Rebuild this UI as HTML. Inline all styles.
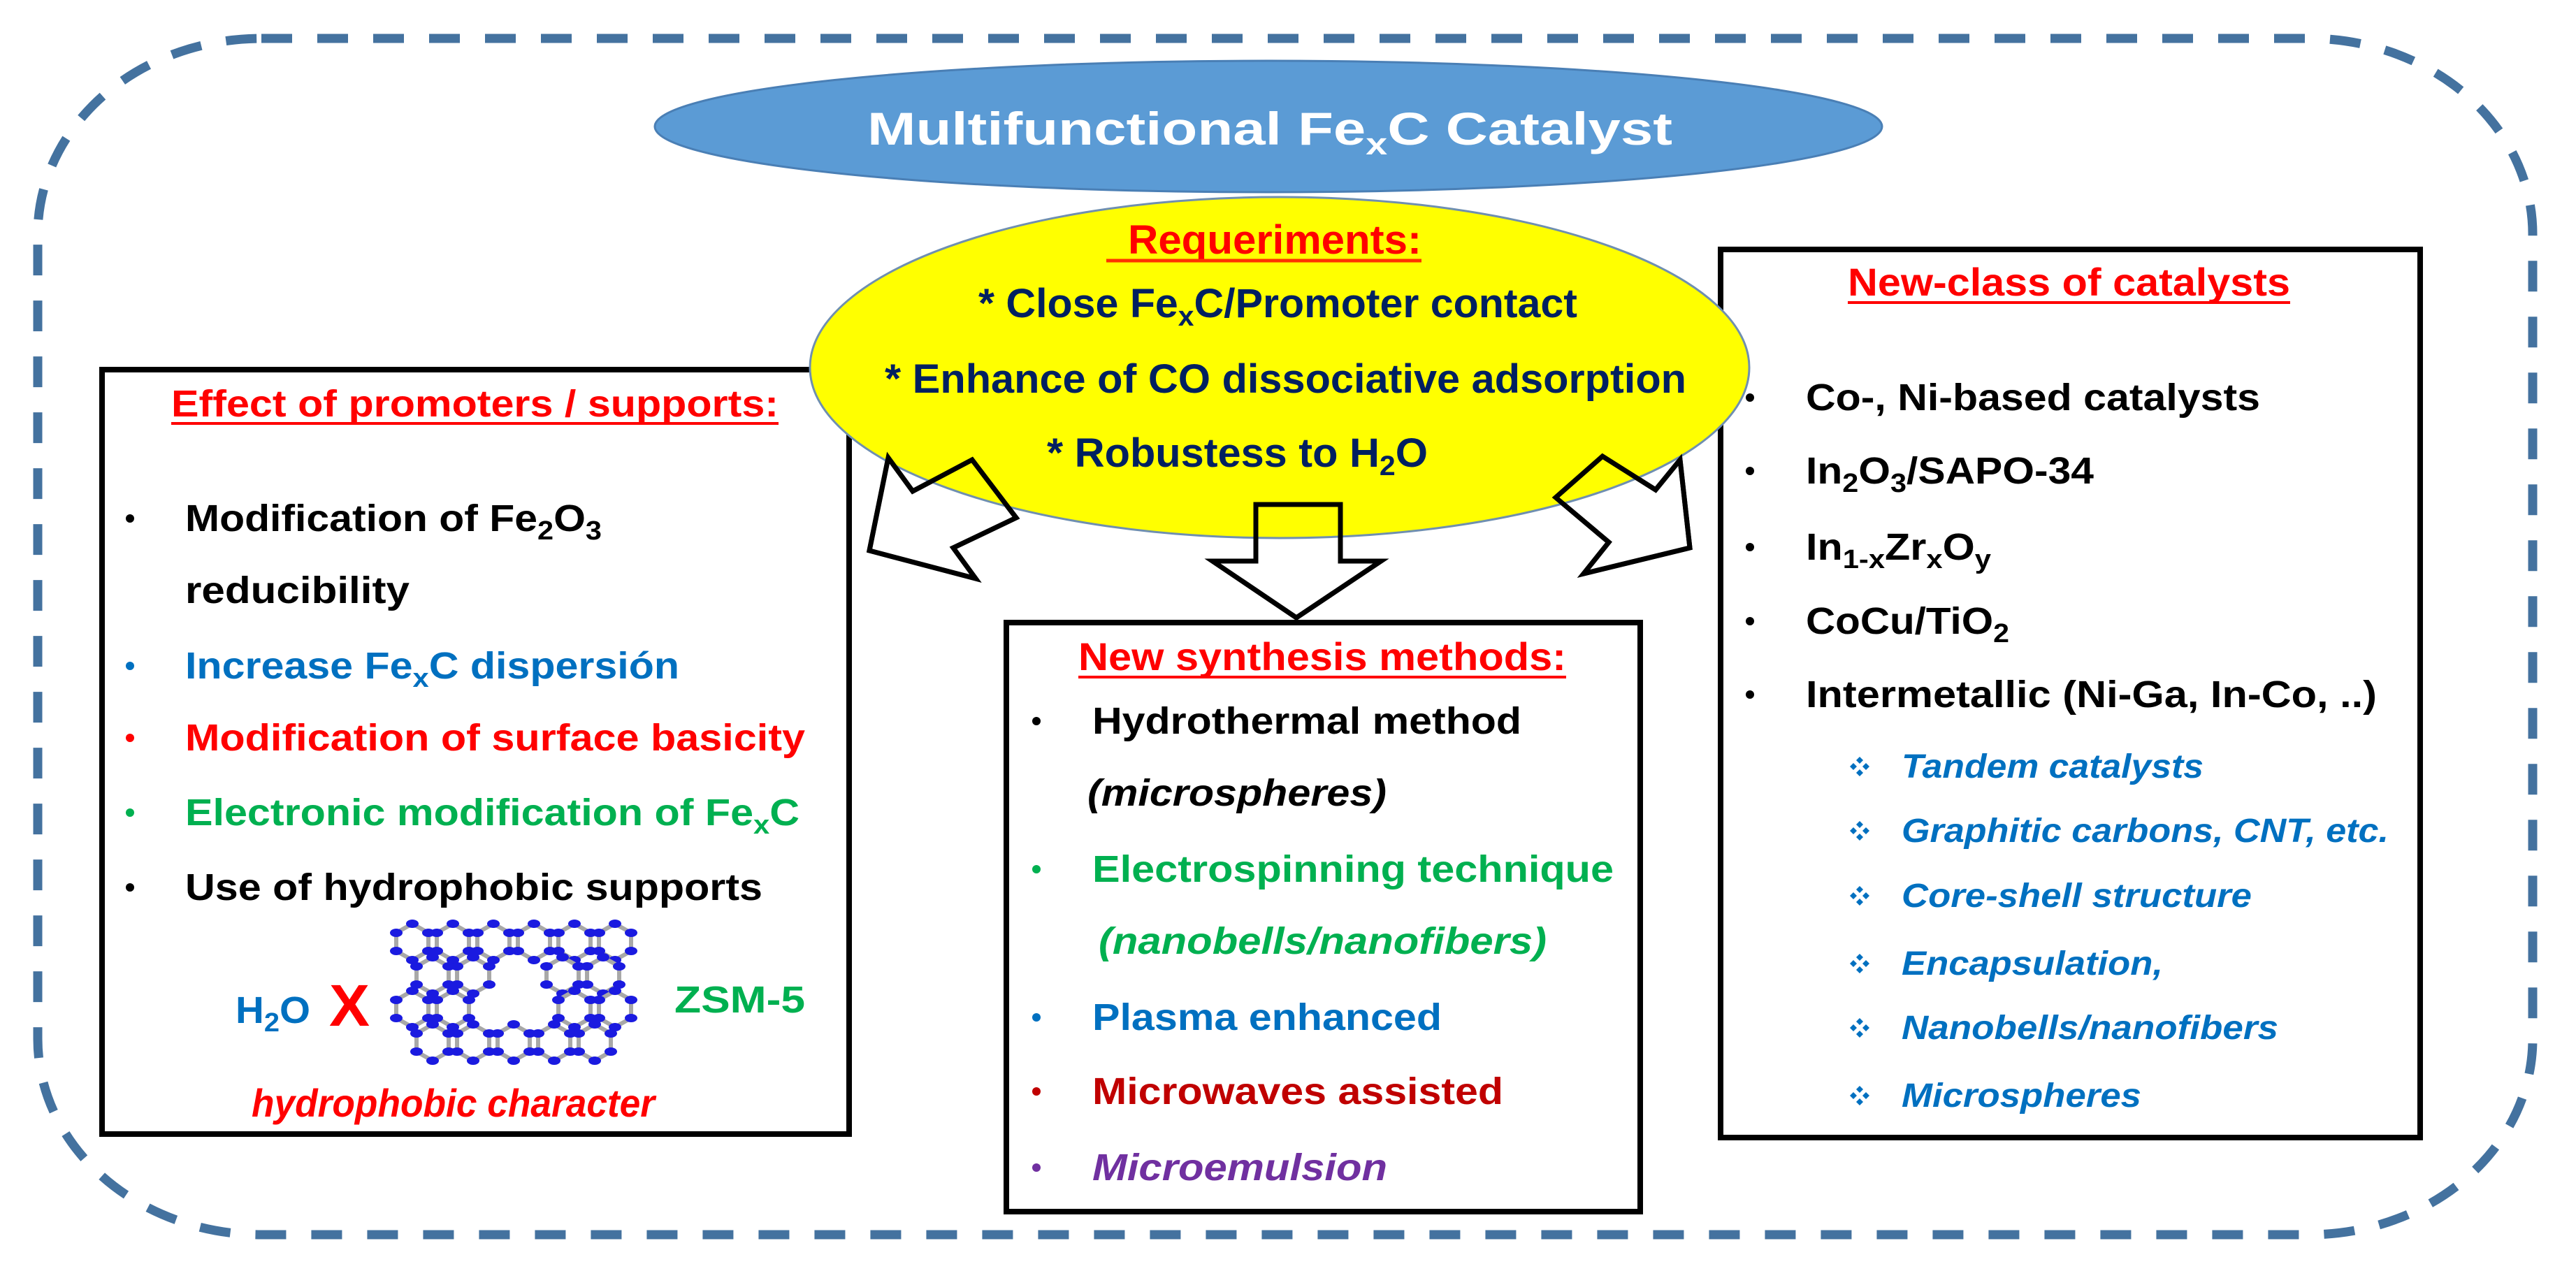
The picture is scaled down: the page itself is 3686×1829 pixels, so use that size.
<!DOCTYPE html>
<html><head><meta charset="utf-8"><style>
html,body{margin:0;padding:0;background:#fff;}
svg{display:block;}
text{font-family:"Liberation Sans",Arial,sans-serif;font-weight:bold;}
</style></head><body>
<svg width="3686" height="1829" viewBox="0 0 3686 1829" xmlns="http://www.w3.org/2000/svg">
<defs>
<g id="ring">
<polygon points="0,-26 23,-13 23,13 0,26 -23,13 -23,-13" fill="none" stroke="#a8a8a8" stroke-width="6"/>
<ellipse cx="0" cy="-26" rx="9" ry="6" fill="#1a1ae0"/>
<ellipse cx="23" cy="-13" rx="9" ry="6" fill="#1a1ae0"/>
<ellipse cx="23" cy="13" rx="9" ry="6" fill="#1a1ae0"/>
<ellipse cx="0" cy="26" rx="9" ry="6" fill="#1a1ae0"/>
<ellipse cx="-23" cy="13" rx="9" ry="6" fill="#1a1ae0"/>
<ellipse cx="-23" cy="-13" rx="9" ry="6" fill="#1a1ae0"/>
</g>
<g id="dia" fill="#0070c0">
<polygon points="0,-14 5,-9 0,-4 -5,-9"/>
<polygon points="0,14 5,9 0,4 -5,9"/>
<polygon points="-14,0 -9,5 -4,0 -9,-5"/>
<polygon points="14,0 9,5 4,0 9,-5"/>
</g>
</defs>

<rect x="54" y="55" width="3570" height="1712" rx="320" ry="280" fill="none" stroke="#44729f" stroke-width="13" stroke-dasharray="44 36"/>

<ellipse cx="1815" cy="181" rx="878" ry="94" fill="#5b9bd5" stroke="#4a7fb5" stroke-width="3"/>
<text x="1241" y="207" font-size="66" fill="#fff" textLength="1152" lengthAdjust="spacingAndGlyphs">Multifunctional Fe<tspan font-size="44" dy="14">x</tspan><tspan dy="-14">C Catalyst</tspan></text>

<rect x="146" y="529" width="1069" height="1094" fill="#fff" stroke="#000" stroke-width="8"/>
<rect x="1440" y="891" width="907" height="843" fill="#fff" stroke="#000" stroke-width="8"/>
<rect x="2462" y="357" width="1001" height="1271" fill="#fff" stroke="#000" stroke-width="8"/>

<polygon points="1391,658 1454,741 1364,784 1396,828 1244,788 1271,655 1306,703" fill="#fff" stroke="#000" stroke-width="7"/>
<polygon points="2293,653 2369,701 2404,658 2418,784 2266,821 2302,776 2226,712" fill="#fff" stroke="#000" stroke-width="7"/>
<polygon points="1797,722 1918,722 1918,803 1976,803 1855,884 1735,803 1797,803" fill="#fff" stroke="#000" stroke-width="7"/>

<ellipse cx="1831" cy="526" rx="672" ry="244" fill="#ffff00" stroke="#6f8fb0" stroke-width="3"/>

<polygon points="1391,658 1454,741 1364,784 1396,828 1244,788 1271,655 1306,703" fill="none" stroke="#000" stroke-width="7"/>
<polygon points="2293,653 2369,701 2404,658 2418,784 2266,821 2302,776 2226,712" fill="none" stroke="#000" stroke-width="7"/>
<polygon points="1797,722 1918,722 1918,803 1976,803 1855,884 1735,803 1797,803" fill="none" stroke="#000" stroke-width="7"/>

<text x="1614" y="363" font-size="58" fill="#ff0000" textLength="420" lengthAdjust="spacingAndGlyphs">Requeriments:</text>
<line x1="1583" y1="373" x2="2034" y2="373" stroke="#ff3300" stroke-width="5"/>
<text x="1400" y="454" font-size="58" fill="#002060" textLength="857" lengthAdjust="spacingAndGlyphs">* Close Fe<tspan font-size="40" dy="12">x</tspan><tspan dy="-12">C/Promoter contact</tspan></text>
<text x="1266" y="562" font-size="58" fill="#002060" textLength="1147" lengthAdjust="spacingAndGlyphs">* Enhance of CO dissociative adsorption</text>
<text x="1498" y="668" font-size="58" fill="#002060" textLength="545" lengthAdjust="spacingAndGlyphs">* Robustess to H<tspan font-size="40" dy="12">2</tspan><tspan dy="-12">O</tspan></text>

<text x="245" y="596" font-size="54" fill="#ff0000" textLength="869" lengthAdjust="spacingAndGlyphs">Effect of promoters / supports:</text>
<line x1="245" y1="606" x2="1114" y2="606" stroke="#ff0000" stroke-width="4"/>
<g font-size="54">
<circle cx="186" cy="742" r="6" fill="#000"/>
<text x="265" y="760" fill="#000" textLength="596" lengthAdjust="spacingAndGlyphs">Modification of Fe<tspan font-size="38" dy="12">2</tspan><tspan dy="-12">O</tspan><tspan font-size="38" dy="12">3</tspan></text>
<text x="265" y="863" fill="#000" textLength="321" lengthAdjust="spacingAndGlyphs">reducibility</text>
<circle cx="186" cy="953" r="6" fill="#0070c0"/>
<text x="265" y="971" fill="#0070c0" textLength="707" lengthAdjust="spacingAndGlyphs">Increase Fe<tspan font-size="38" dy="12">x</tspan><tspan dy="-12">C dispersión</tspan></text>
<circle cx="186" cy="1056" r="6" fill="#ff0000"/>
<text x="265" y="1074" fill="#ff0000" textLength="887" lengthAdjust="spacingAndGlyphs">Modification of surface basicity</text>
<circle cx="186" cy="1163" r="6" fill="#00b050"/>
<text x="265" y="1181" fill="#00b050" textLength="879" lengthAdjust="spacingAndGlyphs">Electronic modification of Fe<tspan font-size="38" dy="12">x</tspan><tspan dy="-12">C</tspan></text>
<circle cx="186" cy="1270" r="6" fill="#000"/>
<text x="265" y="1288" fill="#000" textLength="826" lengthAdjust="spacingAndGlyphs">Use of hydrophobic supports</text>
</g>
<text x="337" y="1464" font-size="54" fill="#0070c0" textLength="107" lengthAdjust="spacingAndGlyphs">H<tspan font-size="38" dy="12">2</tspan><tspan dy="-12">O</tspan></text>
<text x="471" y="1468" font-size="84" fill="#ff0000" textLength="58" lengthAdjust="spacingAndGlyphs">X</text>
<text x="965" y="1449" font-size="54" fill="#00b050" textLength="187" lengthAdjust="spacingAndGlyphs">ZSM-5</text>
<text x="360" y="1598" font-size="56" font-style="italic" fill="#ff0000" textLength="577" lengthAdjust="spacingAndGlyphs">hydrophobic character</text>

<g>
<use href="#ring" x="590" y="1348"/><use href="#ring" x="648" y="1348"/><use href="#ring" x="706" y="1348"/><use href="#ring" x="764" y="1348"/><use href="#ring" x="822" y="1348"/><use href="#ring" x="880" y="1348"/>
<use href="#ring" x="619" y="1396"/><use href="#ring" x="677" y="1396"/><use href="#ring" x="805" y="1396"/><use href="#ring" x="863" y="1396"/>
<use href="#ring" x="590" y="1444"/><use href="#ring" x="648" y="1444"/><use href="#ring" x="822" y="1444"/><use href="#ring" x="880" y="1444"/>
<use href="#ring" x="619" y="1492"/><use href="#ring" x="677" y="1492"/><use href="#ring" x="735" y="1492"/><use href="#ring" x="793" y="1492"/><use href="#ring" x="851" y="1492"/>
</g>

<text x="1543" y="959" font-size="56" fill="#ff0000" textLength="698" lengthAdjust="spacingAndGlyphs">New synthesis methods:</text>
<line x1="1543" y1="969" x2="2241" y2="969" stroke="#ff0000" stroke-width="4"/>
<g font-size="54">
<circle cx="1483" cy="1032" r="6" fill="#000"/>
<text x="1563" y="1050" fill="#000" textLength="614" lengthAdjust="spacingAndGlyphs">Hydrothermal method</text>
<text x="1556" y="1153" fill="#000" font-style="italic" textLength="428" lengthAdjust="spacingAndGlyphs">(microspheres)</text>
<circle cx="1483" cy="1244" r="6" fill="#00b050"/>
<text x="1563" y="1262" fill="#00b050" textLength="746" lengthAdjust="spacingAndGlyphs">Electrospinning technique</text>
<text x="1572" y="1365" fill="#00b050" font-style="italic" textLength="641" lengthAdjust="spacingAndGlyphs">(nanobells/nanofibers)</text>
<circle cx="1483" cy="1456" r="6" fill="#0070c0"/>
<text x="1563" y="1474" fill="#0070c0" textLength="500" lengthAdjust="spacingAndGlyphs">Plasma enhanced</text>
<circle cx="1483" cy="1562" r="6" fill="#c00000"/>
<text x="1563" y="1580" fill="#c00000" textLength="588" lengthAdjust="spacingAndGlyphs">Microwaves assisted</text>
<circle cx="1483" cy="1671" r="6" fill="#7030a0"/>
<text x="1563" y="1689" fill="#7030a0" font-style="italic" textLength="422" lengthAdjust="spacingAndGlyphs">Microemulsion</text>
</g>

<text x="2644" y="423" font-size="56" fill="#ff0000" textLength="633" lengthAdjust="spacingAndGlyphs">New-class of catalysts</text>
<line x1="2644" y1="433" x2="3277" y2="433" stroke="#ff0000" stroke-width="4"/>
<g font-size="54" fill="#000">
<circle cx="2504" cy="569" r="6"/>
<text x="2584" y="587" textLength="650" lengthAdjust="spacingAndGlyphs">Co-, Ni-based catalysts</text>
<circle cx="2504" cy="674" r="6"/>
<text x="2584" y="692" textLength="412" lengthAdjust="spacingAndGlyphs">In<tspan font-size="38" dy="12">2</tspan><tspan dy="-12">O</tspan><tspan font-size="38" dy="12">3</tspan><tspan dy="-12">/SAPO-34</tspan></text>
<circle cx="2504" cy="783" r="6"/>
<text x="2584" y="801" textLength="265" lengthAdjust="spacingAndGlyphs">In<tspan font-size="38" dy="12">1-x</tspan><tspan dy="-12">Zr</tspan><tspan font-size="38" dy="12">x</tspan><tspan dy="-12">O</tspan><tspan font-size="38" dy="12">y</tspan></text>
<circle cx="2504" cy="889" r="6"/>
<text x="2584" y="907" textLength="291" lengthAdjust="spacingAndGlyphs">CoCu/TiO<tspan font-size="38" dy="12">2</tspan></text>
<circle cx="2504" cy="994" r="6"/>
<text x="2584" y="1012" textLength="817" lengthAdjust="spacingAndGlyphs">Intermetallic (Ni-Ga, In-Co, ..)</text>
</g>
<use href="#dia" x="2661" y="1097"/>
<use href="#dia" x="2661" y="1189"/>
<use href="#dia" x="2661" y="1282"/>
<use href="#dia" x="2661" y="1379"/>
<use href="#dia" x="2661" y="1471"/>
<use href="#dia" x="2661" y="1568"/>
<g font-size="48" fill="#0070c0" font-style="italic">
<text x="2721" y="1113" textLength="432" lengthAdjust="spacingAndGlyphs">Tandem catalysts</text>
<text x="2721" y="1205" textLength="697" lengthAdjust="spacingAndGlyphs">Graphitic carbons, CNT, etc.</text>
<text x="2721" y="1298" textLength="501" lengthAdjust="spacingAndGlyphs">Core-shell structure</text>
<text x="2721" y="1395" textLength="374" lengthAdjust="spacingAndGlyphs">Encapsulation,</text>
<text x="2721" y="1487" textLength="539" lengthAdjust="spacingAndGlyphs">Nanobells/nanofibers</text>
<text x="2721" y="1584" textLength="343" lengthAdjust="spacingAndGlyphs">Microspheres</text>
</g>
</svg>
</body></html>
